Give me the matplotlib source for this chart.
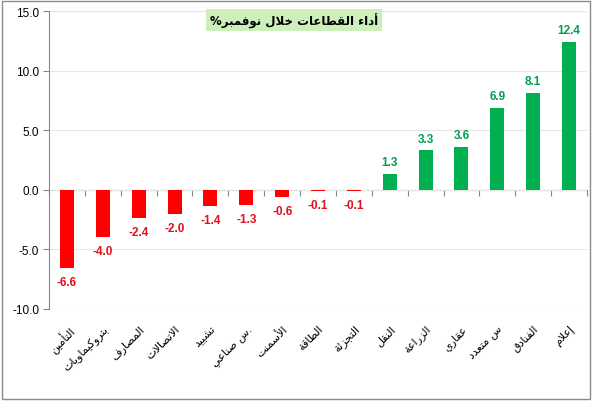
import matplotlib
matplotlib.use("Agg")
import matplotlib.pyplot as plt
import matplotlib.patches as patches

# sector names (logical Arabic order) and November performance in %
sectors = ['التأمين', 'بتروكيماويات', 'المصارف', 'الاتصالات', 'تشييد', '.س صناعي',
           'الأسمنت', 'الطاقة', 'التجزئة', 'النقل', 'الزراعة', 'عقاري',
           'س متعدد', 'الفنادق', 'إعلام']
values = [-6.6, -4.0, -2.4, -2.0, -1.4, -1.3, -0.6, -0.1, -0.1,
          1.3, 3.3, 3.6, 6.9, 8.1, 12.4]
title = 'أداء القطاعات خلال نوفمبر%'
y_ticks = [-10, -5, 0, 5, 10, 15]

# matplotlib does no Arabic shaping, so pick presentation forms by hand
DUAL = {'ب': 0xFE8F, 'ت': 0xFE95, 'ث': 0xFE99, 'ج': 0xFE9D, 'ح': 0xFEA1, 'خ': 0xFEA5,
        'س': 0xFEB1, 'ش': 0xFEB5, 'ص': 0xFEB9, 'ض': 0xFEBD, 'ط': 0xFEC1, 'ظ': 0xFEC5,
        'ع': 0xFEC9, 'غ': 0xFECD, 'ف': 0xFED1, 'ق': 0xFED5, 'ك': 0xFED9, 'ل': 0xFEDD,
        'م': 0xFEE1, 'ن': 0xFEE5, 'ه': 0xFEE9, 'ي': 0xFEF1, 'ئ': 0xFE89}
RIGHT = {'ا': 0xFE8D, 'أ': 0xFE83, 'إ': 0xFE87, 'آ': 0xFE81, 'د': 0xFEA9, 'ذ': 0xFEAB,
         'ر': 0xFEAD, 'ز': 0xFEAF, 'و': 0xFEED, 'ى': 0xFEEF, 'ة': 0xFE93, 'ؤ': 0xFE85}
LAM_ALEF = {'ا': 0xFEFB, 'أ': 0xFEF7, 'إ': 0xFEF9, 'آ': 0xFEF5}


def shape(text):
    out = []
    i = 0
    while i < len(text):
        c = text[i]
        prev = text[i - 1] if i > 0 else ''
        nxt = text[i + 1] if i + 1 < len(text) else ''
        after_prev = prev in DUAL
        if c == 'ل' and nxt in LAM_ALEF:
            out.append(chr(LAM_ALEF[nxt] + (1 if after_prev else 0)))
            i += 2
            continue
        if c in DUAL:
            base = DUAL[c]
            to_next = nxt in DUAL or nxt in RIGHT
            if after_prev and to_next:
                c = chr(base + 3)
            elif after_prev:
                c = chr(base + 1)
            elif to_next:
                c = chr(base + 2)
            else:
                c = chr(base)
        elif c in RIGHT:
            c = chr(RIGHT[c] + (1 if after_prev else 0))
        elif c == 'ء':
            c = chr(0xFE80)
        out.append(c)
        i += 1
    return ''.join(reversed(out))


plt.rcParams['font.family'] = ['Liberation Sans', 'DejaVu Sans']

fig = plt.figure(figsize=(5.92, 4.02), dpi=100)
ax = fig.add_axes([49 / 592, 1 - 310 / 402, 538 / 592, 298 / 402])

x = list(range(len(values)))
colors = ['#FF0000' if v < 0 else '#00B050' for v in values]
ax.bar(x, values, width=0.39, color=colors, zorder=3)

for xi, v in zip(x, values):
    if v < 0:
        ax.annotate('%.1f' % v, (xi, v), xytext=(0, -10), textcoords='offset points',
                    ha='center', va='center', color='#E0101E', fontsize=8.5, fontweight='bold')
    else:
        ax.annotate('%.1f' % v, (xi, v), xytext=(0, 8.5), textcoords='offset points',
                    ha='center', va='center', color='#00A050', fontsize=8.5, fontweight='bold')

ax.set_xlim(-0.5, len(values) - 0.5)
ax.set_ylim(-10, 15)
ax.set_yticks(y_ticks)
ax.set_yticklabels(['%.1f' % t for t in y_ticks])
ax.tick_params(axis='y', direction='out', length=4, color='#868686', labelsize=8.5, pad=3)
ax.yaxis.grid(True, color='#E6E6E6', linewidth=0.8, zorder=0)

ax.set_xticks(x)
ax.set_xticklabels([shape(s) for s in sectors], rotation=45, ha='right',
                   rotation_mode='anchor', family='DejaVu Sans', fontsize=8)
ax.tick_params(axis='x', length=0, pad=10)

for side in ['top', 'right', 'bottom']:
    ax.spines[side].set_visible(False)
ax.spines['left'].set_color('#868686')

# category axis drawn at zero
zero_axis = ax.secondary_xaxis(0, transform=ax.transData)
zero_axis.set_xticks([i - 0.5 for i in range(len(values) + 1)])
zero_axis.set_xticklabels([])
zero_axis.tick_params(direction='out', length=4, color='#868686')
zero_axis.spines['bottom'].set_color('#868686')

fig.text(294 / 592, 1 - 21 / 402, shape(title), ha='center', va='center',
         family='DejaVu Sans', fontsize=8.5, fontweight='bold',
         bbox=dict(boxstyle='square,pad=0.3', facecolor='#CDEFBB', edgecolor='none'))

fig.patches.append(patches.Rectangle((0.003, 0.004), 0.993, 0.991, transform=fig.transFigure,
                                     fill=False, edgecolor='#8C8C8C', linewidth=1))

fig.savefig('out.png', dpi=100)
